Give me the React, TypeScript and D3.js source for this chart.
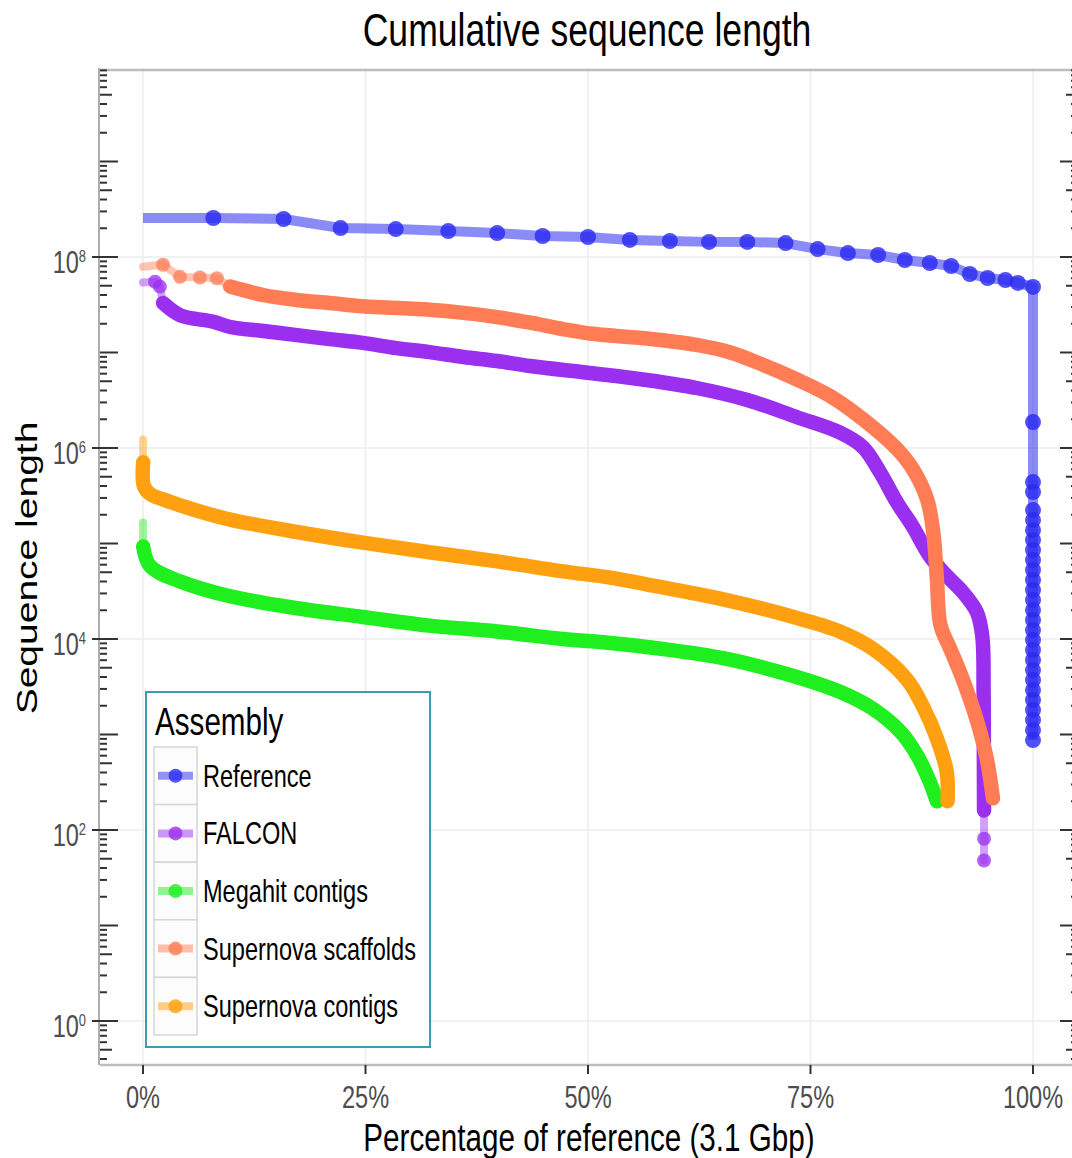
import React from "react";
import * as d3 from "d3";

// ---------- data ----------
const seriesNames = ["Reference", "FALCON", "Megahit contigs", "Supernova scaffolds", "Supernova contigs"];
const seriesColors = ["#2b2bf2", "#9a2ff0", "#1fee1f", "#ff7c55", "#ffa010"];

const xTickValues = [0, 25, 50, 75, 100];
const xTickLabels = ["0%", "25%", "50%", "75%", "100%"];
const yLabelExponents = [0, 2, 4, 6, 8];

const refPct = [0, 7.9, 15.8, 22.2, 28.4, 34.3, 39.8, 44.9, 50, 54.7, 59.2, 63.6, 67.9, 72.2, 75.8, 79.2, 82.6, 85.6, 88.4, 90.8, 92.9, 94.9, 96.9, 98.3, 100,
  100, 100, 100, 100, 100, 100, 100, 100, 100, 100, 100, 100, 100, 100, 100, 100, 100, 100, 100, 100, 100, 100, 100, 100, 100, 100, 100];
const refLen = [2.56e8, 2.56e8, 2.5e8, 2.01e8, 1.96e8, 1.87e8, 1.78e8, 1.66e8, 1.62e8, 1.51e8, 1.47e8, 1.44e8, 1.44e8, 1.4e8, 1.21e8, 1.1e8, 1.05e8, 9.3e7, 8.65e7, 8.05e7, 6.64e7, 6.03e7, 5.74e7, 5.35e7, 4.86e7,
  1.87e6, 4.4e5, 3.46e5, 2.24e5, 1.76e5, 1.38e5, 1.09e5, 8.55e4, 6.72e4, 5.28e4, 4.15e4, 3.26e4, 2.56e4, 2.01e4, 1.58e4, 1.24e4, 9.77e3, 7.67e3, 6.03e3, 4.73e3, 3.72e3, 2.92e3, 2.3e3, 1.81e3, 1.42e3, 1.11e3, 875];

const falconPct = [0, 1.35, 1.9, 2.25, 4.2, 7.9, 9.8, 13.5, 17.3, 21.0, 24.7, 28.5, 32.2, 36.0, 39.8, 43.5, 50.2, 56.6, 62.2, 67.9, 73.5, 78.3, 80.9, 82.8, 84.7, 86.5, 88.4, 90.3, 92.1, 93.7, 94.3, 94.45, 94.48, 94.5, 94.5, 94.5];
const falconLen = [5.4e7, 5.5e7, 4.9e7, 3.3e7, 2.45e7, 2.1e7, 1.85e7, 1.68e7, 1.52e7, 1.38e7, 1.26e7, 1.11e7, 1.01e7, 8.97e6, 8.14e6, 7.22e6, 6.1e6, 5.15e6, 4.25e6, 3.18e6, 2.1e6, 1.45e6, 1.02e6, 5.6e5, 2.7e5, 1.5e5, 7.4e4, 4.6e4, 3.1e4, 1.9e4, 1.07e4, 2.8e3, 560, 160, 81, 48];

const megahitPct = [0, 0.02, 0.8, 4.2, 9.8, 17.3, 24.7, 32.2, 39.8, 47.2, 52.5, 57.8, 65.2, 72.7, 78.3, 82.0, 85.1, 87.0, 88.4, 89.2];
const megahitLen = [1.66e5, 9.3e4, 5.8e4, 4.0e4, 2.8e4, 2.1e4, 1.7e4, 1.38e4, 1.2e4, 1.0e4, 9.1e3, 8.0e3, 6.3e3, 4.2e3, 2.8e3, 1.86e3, 1.07e3, 600, 320, 200];

const scaffPct = [0, 2.25, 4.16, 6.4, 8.3, 9.8, 13.5, 17.3, 21.0, 24.7, 32.2, 36.0, 39.8, 43.5, 47.2, 50.2, 56.6, 62.2, 66.0, 69.7, 73.5, 77.2, 80.9, 84.7, 86.5, 88.1, 88.8, 89.2, 89.6, 90.7, 92.1, 93.7, 94.8, 95.5];
const scaffLen = [7.9e7, 8.3e7, 6.2e7, 6.1e7, 6.0e7, 4.9e7, 4.0e7, 3.55e7, 3.3e7, 3.05e7, 2.8e7, 2.6e7, 2.35e7, 2.05e7, 1.76e7, 1.58e7, 1.4e7, 1.2e7, 1.0e7, 7.4e6, 5.2e6, 3.5e6, 2.0e6, 9.8e5, 6.0e5, 2.9e5, 1.3e5, 4.3e4, 1.4e4, 7.9e3, 3.8e3, 1.4e3, 560, 215];

const contigPct = [0, 0.02, 0.1, 0.8, 2.25, 6.1, 9.8, 17.3, 24.7, 32.2, 39.8, 47.2, 52.5, 57.8, 65.2, 72.7, 78.3, 82.0, 85.8, 87.6, 89.2, 90.3, 90.4];
const contigLen = [1.23e6, 7.1e5, 4.0e5, 3.3e5, 2.9e5, 2.2e5, 1.78e5, 1.32e5, 1.02e5, 8.1e4, 6.5e4, 5.1e4, 4.4e4, 3.55e4, 2.6e4, 1.74e4, 1.2e4, 7.9e3, 3.8e3, 2.0e3, 910, 410, 200];

const seriesPct = [refPct, falconPct, megahitPct, scaffPct, contigPct];
const seriesLen = [refLen, falconLen, megahitLen, scaffLen, contigLen];
// index range drawn as the dense (solid) band; outside it, a light line with separate dots
const bandRange: [number, number][] = [[-1, -1], [3, 33], [1, 19], [5, 33], [1, 22]];

// ---------- layout ----------
const W = 1072;
const H = 1158;
const PL = 100, PR = 1078, PT = 68, PB = 1065;
const SX = 0.76;
const FONT = "'Liberation Sans', Arial, Helvetica, sans-serif";

const x = d3.scaleLinear().domain([0, 100]).range([143, 1033]);
const y = d3.scaleLog().domain([1, 1e8]).range([1021, 257]);

function T(props: any) {
  const { x: tx, y: ty, anchor = "start", size, fill = "#000", children, rotate } = props;
  const tr = rotate ? `translate(${tx},${ty}) rotate(-90) scale(1,${SX})` : `translate(${tx},${ty}) scale(${SX},1)`;
  return (
    <text transform={tr} textAnchor={anchor} fontSize={size} fill={fill} fontFamily={FONT}>
      {children}
    </text>
  );
}

export default function App() {
  const lineLin = d3.line<[number, number]>().x((d) => x(d[0])).y((d) => y(d[1]));
  const lineSmooth = d3
    .line<[number, number]>()
    .x((d) => x(d[0]))
    .y((d) => y(d[1]))
    .curve(d3.curveCatmullRom.alpha(0.5));

  // log ticks
  const logTicks: { yy: number; len: number }[] = [];
  for (let k = -1; k <= 10; k++) {
    for (let m = 1; m <= 9; m++) {
      const v = m * Math.pow(10, k);
      const yy = y(v);
      if (yy < PT || yy > PB) continue;
      logTicks.push({ yy, len: m === 1 ? 18 : m === 5 ? 12 : 7 });
    }
  }

  const legendY0 = 747;
  const rowH = 57.6;

  return (
    <svg width={W} height={H} style={{ position: "absolute", left: 0, top: 0, background: "#fff" }}>
      <rect x={0} y={0} width={W} height={H} fill="#fff" />
      {/* grid */}
      {xTickValues.map((v) => (
        <line key={"gx" + v} x1={x(v)} x2={x(v)} y1={PT} y2={PB} stroke="#ececec" strokeWidth={1.5} />
      ))}
      {yLabelExponents.map((e) => (
        <line key={"gy" + e} x1={PL} x2={PR} y1={y(Math.pow(10, e))} y2={y(Math.pow(10, e))} stroke="#ececec" strokeWidth={1.5} />
      ))}
      {/* panel borders */}
      <line x1={PL} x2={PR} y1={PT + 2} y2={PT + 2} stroke="#bdbdbd" strokeWidth={2.5} />
      <line x1={PL} x2={PR} y1={PB} y2={PB} stroke="#bdbdbd" strokeWidth={2.5} />
      <line x1={PL - 1} x2={PL - 1} y1={PT} y2={PB} stroke="#777" strokeWidth={1.2} />

      {/* series */}
      {seriesNames.map((name, si) => {
        const pts: [number, number][] = seriesPct[si].map((p, i) => [p, seriesLen[si][i]]);
        const col = seriesColors[si];
        const [b0, b1] = bandRange[si];
        if (si === 0) {
          return (
            <g key={name}>
              <path d={lineLin(pts) || ""} fill="none" stroke={col} strokeOpacity={0.55} strokeWidth={10} strokeLinejoin="round" />
              {pts.slice(1).map((d, i) => (
                <circle key={i} cx={x(d[0])} cy={y(d[1])} r={8} fill={col} fillOpacity={0.82} />
              ))}
            </g>
          );
        }
        const pre = pts.slice(0, b0 + 1);
        const band = pts.slice(b0, b1 + 1);
        const post = pts.slice(b1);
        return (
          <g key={name}>
            {pre.length > 1 && (
              <path d={lineLin(pre) || ""} fill="none" stroke={col} strokeOpacity={0.45} strokeWidth={8} strokeLinecap="round" />
            )}
            {post.length > 1 && (
              <path d={lineLin(post) || ""} fill="none" stroke={col} strokeOpacity={0.45} strokeWidth={8} strokeLinecap="round" />
            )}
            {pts.map((d, i) =>
              i > 0 && (i < b0 || i > b1) ? (
                <circle key={i} cx={x(d[0])} cy={y(d[1])} r={7} fill={col} fillOpacity={0.75} />
              ) : null
            )}
            <path d={lineSmooth(band) || ""} fill="none" stroke={col} strokeWidth={14.5} strokeLinecap="round" strokeLinejoin="round" />
          </g>
        );
      })}

      {/* log ticks (left and right) */}
      {logTicks.map((t, i) => (
        <g key={"lt" + i}>
          <line x1={PL} x2={PL + t.len} y1={t.yy} y2={t.yy} stroke="#333" strokeWidth={2} />
          <line x1={PR - t.len} x2={PR} y1={t.yy} y2={t.yy} stroke="#333" strokeWidth={2} />
        </g>
      ))}
      {/* y axis ticks + labels */}
      {yLabelExponents.map((e) => {
        const yy = y(Math.pow(10, e));
        return (
          <g key={"yl" + e}>
            <line x1={PL - 8} x2={PL} y1={yy} y2={yy} stroke="#333" strokeWidth={2} />
            <text transform={`translate(86,${yy + 16}) scale(${SX},1)`} textAnchor="end" fontSize={31} fill="#4d4d4d" fontFamily={FONT}>
              10
              <tspan fontSize={17} dy={-11}>{e}</tspan>
            </text>
          </g>
        );
      })}
      {/* x axis ticks + labels */}
      {xTickValues.map((v, i) => (
        <g key={"xl" + v}>
          <line x1={x(v)} x2={x(v)} y1={PB} y2={PB + 9} stroke="#333" strokeWidth={2} />
          <T x={x(v)} y={1108} anchor="middle" size={31} fill="#4d4d4d">
            {xTickLabels[i]}
          </T>
        </g>
      ))}

      {/* titles */}
      <T x={587} y={46} anchor="middle" size={46.8}>Cumulative sequence length</T>
      <T x={589} y={1151} anchor="middle" size={39}>Percentage of reference (3.1 Gbp)</T>
      <T x={37} y={568} anchor="middle" size={39} rotate>Sequence length</T>

      {/* legend */}
      <rect x={146} y={692} width={284} height={355} fill="#fff" stroke="#3a9db5" strokeWidth={2} />
      <T x={155} y={735} size={39}>Assembly</T>
      {seriesNames.map((name, i) => {
        const cy = legendY0 + rowH * i + rowH / 2;
        return (
          <g key={"lg" + name}>
            <rect x={154} y={legendY0 + rowH * i} width={43} height={rowH} fill="#fcfcfc" stroke="#d6d6d6" strokeWidth={1.5} />
            <line x1={158} x2={193} y1={cy} y2={cy} stroke={seriesColors[i]} strokeOpacity={0.5} strokeWidth={8} />
            <circle cx={175.5} cy={cy} r={7} fill={seriesColors[i]} fillOpacity={0.8} />
            <T x={203} y={cy + 11} size={31}>{name}</T>
          </g>
        );
      })}
    </svg>
  );
}
